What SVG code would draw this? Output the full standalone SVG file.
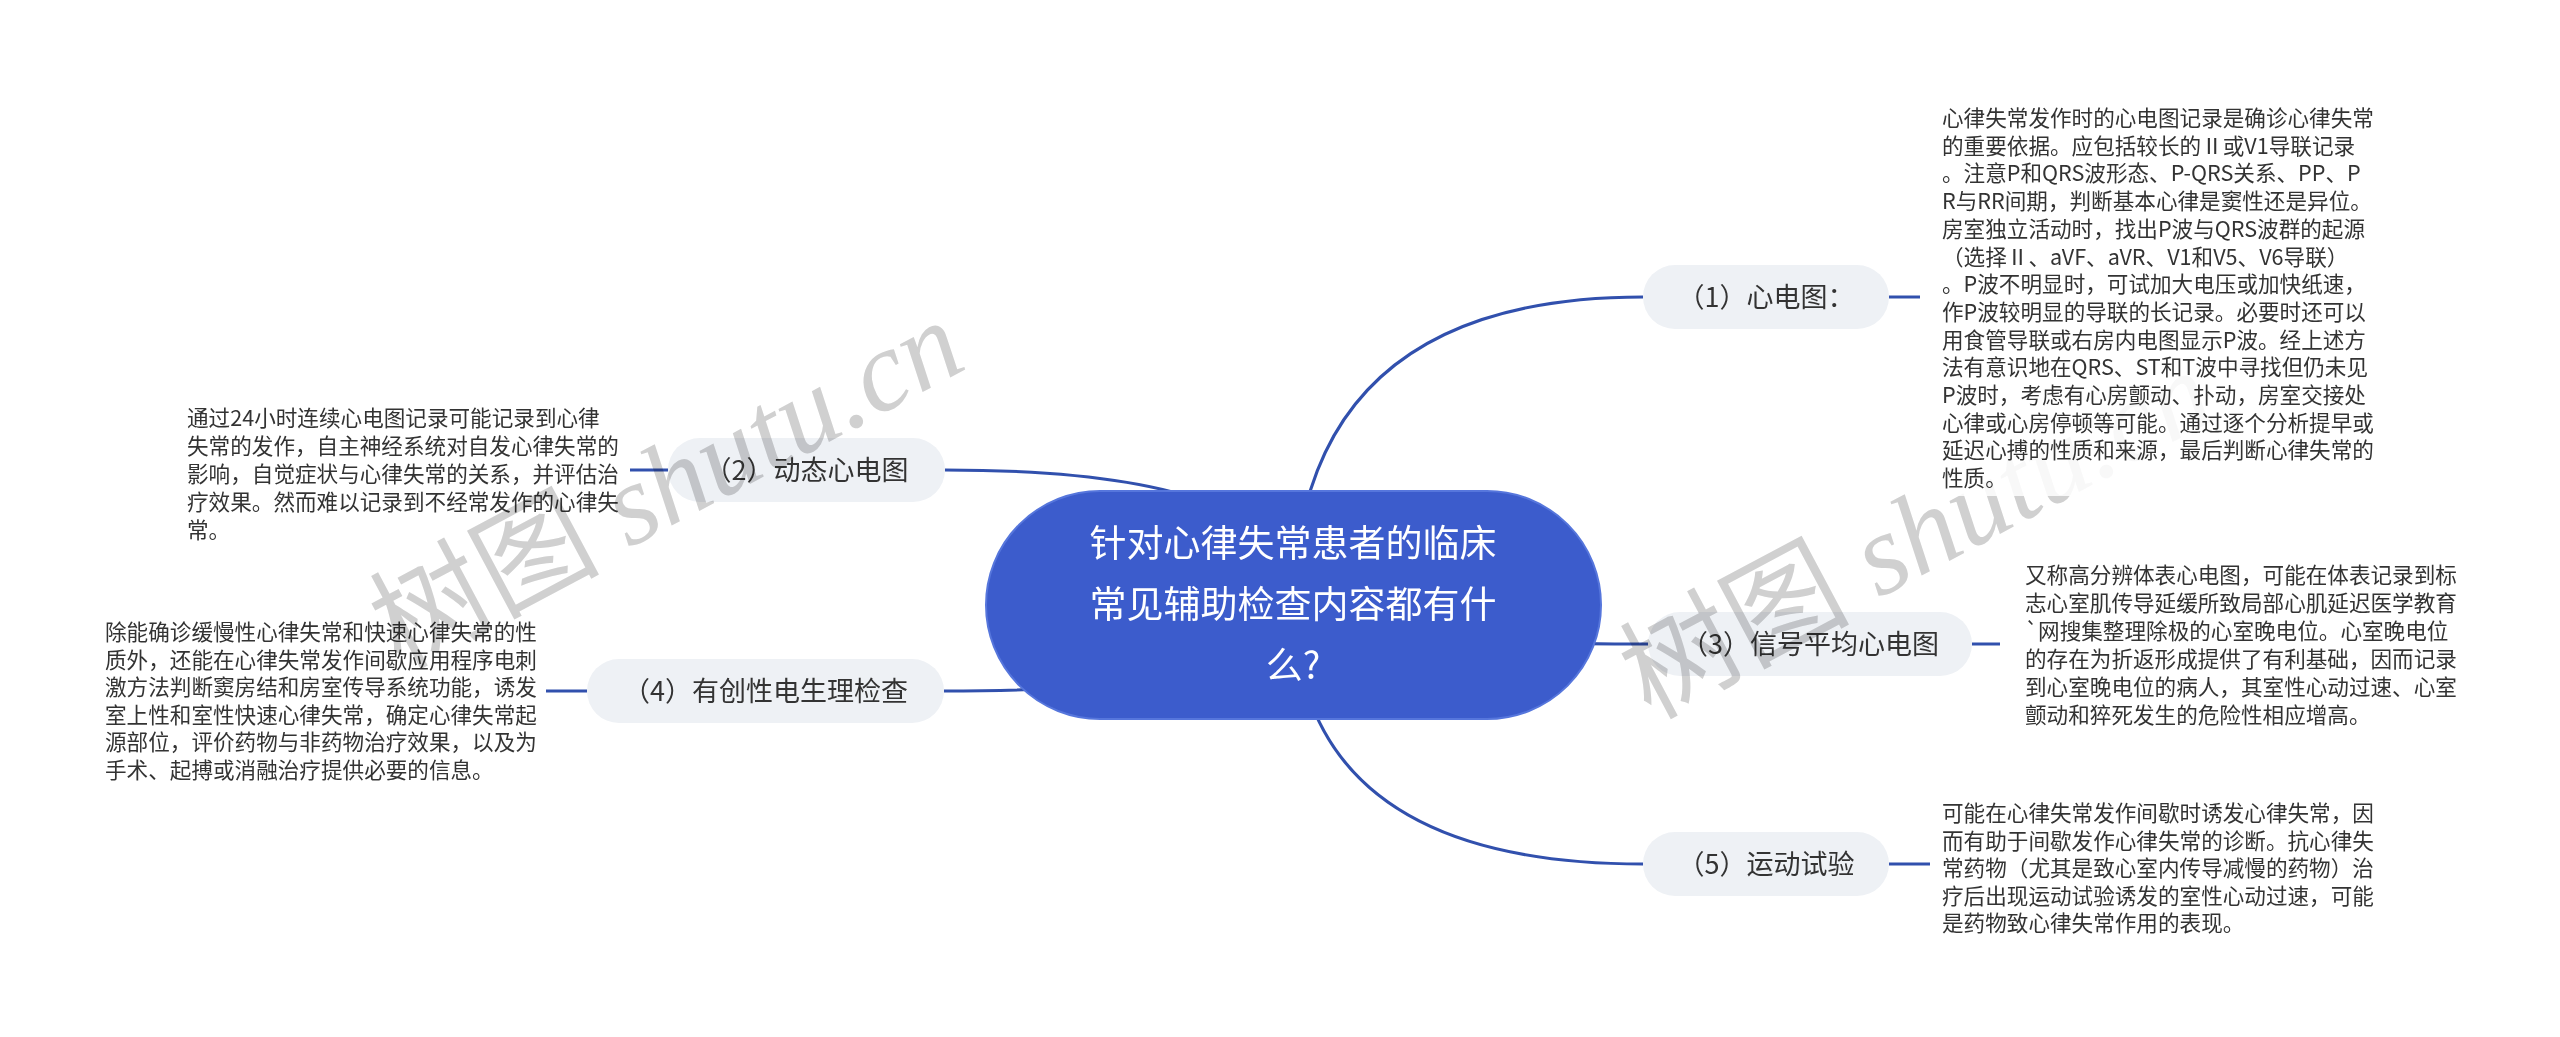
<svg xmlns="http://www.w3.org/2000/svg" width="2560" height="1037" viewBox="0 0 2560 1037">
<style>
.wm{font-family:"Liberation Serif","Noto Sans CJK SC",serif;font-size:115px;fill:#d0d0d0}
.wmg{mix-blend-mode:multiply}
.wmc{font-family:"Noto Sans CJK SC",sans-serif;}
.leaf{font-family:"Noto Sans CJK SC","Noto Sans",sans-serif;font-size:21.6px;fill:#333333}
.lbl{font-family:"Noto Sans CJK SC","Noto Sans",sans-serif;font-size:27px;fill:#333333;text-anchor:middle}
.nodebox{fill:#eef1f5}
.conn{fill:none;stroke:#3150ad;stroke-width:3}
.root{fill:#3c5ccc;stroke:#5676dc;stroke-width:2}
.roottxt{font-family:"Noto Sans CJK SC","Noto Sans",sans-serif;font-size:37px;fill:#ffffff;text-anchor:middle}
</style>
<defs>
<mask id="fade" maskUnits="userSpaceOnUse" x="0" y="0" width="2560" height="1037">
<rect x="0" y="0" width="2560" height="1037" fill="#ffffff"/>
<rect x="1936" y="96" width="460" height="400" fill="#262626"/>
</mask>
</defs>
<rect width="2560" height="1037" fill="#ffffff"/>
<g id="connectors">
<path class="conn" d="M1293 605 Q1300 297 1643 297"/>
<path class="conn" d="M1293 605 Q1300 644 1648 644"/>
<path class="conn" d="M1293 605 Q1300 864 1643 864"/>
<path class="conn" d="M1293 605 Q1300 470 945 470"/>
<path class="conn" d="M1293 605 Q1300 691 944 691"/>
<path class="conn" d="M1889 297 L1920 297"/>
<path class="conn" d="M1972 644 L2000 644"/>
<path class="conn" d="M1889 864 L1930 864"/>
<path class="conn" d="M668 470 L630 470"/>
<path class="conn" d="M587 691 L546 691"/>
</g>
<g id="root">
<rect class="root" x="986" y="491" width="615" height="228" rx="114"/>
<text class="roottxt"><tspan x="1293" y="557">针对心律失常患者的临床</tspan><tspan x="1293" y="618">常见辅助检查内容都有什</tspan><tspan x="1293" y="679">么?</tspan></text>
</g>
<g id="node1">
<rect class="nodebox" x="1643" y="265" width="246" height="64" rx="32"/>
<text class="lbl" x="1766" y="307">（1）心电图：</text>
</g>
<g id="node2">
<rect class="nodebox" x="668" y="438" width="277" height="64" rx="32"/>
<text class="lbl" x="806.5" y="480">（2）动态心电图</text>
</g>
<g id="node3">
<rect class="nodebox" x="1648" y="612" width="324" height="64" rx="32"/>
<text class="lbl" x="1810" y="654">（3）信号平均心电图</text>
</g>
<g id="node4">
<rect class="nodebox" x="587" y="659" width="357" height="64" rx="32"/>
<text class="lbl" x="765.5" y="701">（4）有创性电生理检查</text>
</g>
<g id="node5">
<rect class="nodebox" x="1643" y="832" width="246" height="64" rx="32"/>
<text class="lbl" x="1766" y="874">（5）运动试验</text>
</g>
<g id="leaf1">
<text class="leaf">
<tspan x="1942" y="126">心律失常发作时的心电图记录是确诊心律失常</tspan>
<tspan x="1942" y="153.7">的重要依据。应包括较长的Ⅱ或V1导联记录</tspan>
<tspan x="1942" y="181.4">。注意P和QRS波形态、P-QRS关系、PP、P</tspan>
<tspan x="1942" y="209.1">R与RR间期，判断基本心律是窦性还是异位。</tspan>
<tspan x="1942" y="236.8">房室独立活动时，找出P波与QRS波群的起源</tspan>
<tspan x="1942" y="264.5">（选择Ⅱ、aVF、aVR、V1和V5、V6导联）</tspan>
<tspan x="1942" y="292.2">。P波不明显时，可试加大电压或加快纸速，</tspan>
<tspan x="1942" y="319.9">作P波较明显的导联的长记录。必要时还可以</tspan>
<tspan x="1942" y="347.6">用食管导联或右房内电图显示P波。经上述方</tspan>
<tspan x="1942" y="375.3">法有意识地在QRS、ST和T波中寻找但仍未见</tspan>
<tspan x="1942" y="403">P波时，考虑有心房颤动、扑动，房室交接处</tspan>
<tspan x="1942" y="430.7">心律或心房停顿等可能。通过逐个分析提早或</tspan>
<tspan x="1942" y="458.4">延迟心搏的性质和来源，最后判断心律失常的</tspan>
<tspan x="1942" y="486.1">性质。</tspan>
</text>
</g>
<g id="leaf2">
<text class="leaf">
<tspan x="187" y="426">通过24小时连续心电图记录可能记录到心律</tspan>
<tspan x="187" y="454">失常的发作，自主神经系统对自发心律失常的</tspan>
<tspan x="187" y="482">影响，自觉症状与心律失常的关系，并评估治</tspan>
<tspan x="187" y="510">疗效果。然而难以记录到不经常发作的心律失</tspan>
<tspan x="187" y="538">常。</tspan>
</text>
</g>
<g id="leaf3">
<text class="leaf">
<tspan x="2025" y="583">又称高分辨体表心电图，可能在体表记录到标</tspan>
<tspan x="2025" y="611">志心室肌传导延缓所致局部心肌延迟医学教育</tspan>
<tspan x="2025" y="639">`网搜集整理除极的心室晚电位。心室晚电位</tspan>
<tspan x="2025" y="667">的存在为折返形成提供了有利基础，因而记录</tspan>
<tspan x="2025" y="695">到心室晚电位的病人，其室性心动过速、心室</tspan>
<tspan x="2025" y="723">颤动和猝死发生的危险性相应增高。</tspan>
</text>
</g>
<g id="leaf4">
<text class="leaf">
<tspan x="105" y="640">除能确诊缓慢性心律失常和快速心律失常的性</tspan>
<tspan x="105" y="667.6">质外，还能在心律失常发作间歇应用程序电刺</tspan>
<tspan x="105" y="695.2">激方法判断窦房结和房室传导系统功能，诱发</tspan>
<tspan x="105" y="722.8">室上性和室性快速心律失常，确定心律失常起</tspan>
<tspan x="105" y="750.4">源部位，评价药物与非药物治疗效果，以及为</tspan>
<tspan x="105" y="778">手术、起搏或消融治疗提供必要的信息。</tspan>
</text>
</g>
<g id="leaf5">
<text class="leaf">
<tspan x="1942" y="821">可能在心律失常发作间歇时诱发心律失常，因</tspan>
<tspan x="1942" y="848.5">而有助于间歇发作心律失常的诊断。抗心律失</tspan>
<tspan x="1942" y="876">常药物（尤其是致心室内传导减慢的药物）治</tspan>
<tspan x="1942" y="903.5">疗后出现运动试验诱发的室性心动过速，可能</tspan>
<tspan x="1942" y="931">是药物致心律失常作用的表现。</tspan>
</text>
</g>
<g id="watermarks" class="wmg">
<text class="wm" transform="translate(400,670) rotate(-28)"><tspan class="wmc">树图</tspan> <tspan font-style="italic">shutu.cn</tspan></text>
<g mask="url(#fade)">
<text class="wm" transform="translate(1650,720) rotate(-28)"><tspan class="wmc">树图</tspan> <tspan font-style="italic">shutu.cn</tspan></text>
</g>
</g>
</svg>
